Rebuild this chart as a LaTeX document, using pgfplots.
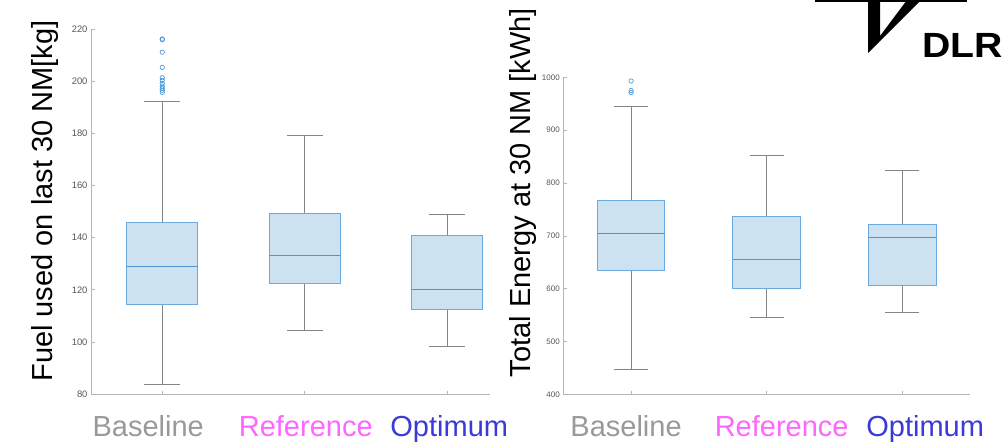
\documentclass[border=0pt]{standalone}
\usepackage{fontspec}
\setmainfont{Liberation Sans}
\usepackage{pgfplots}
\pgfplotsset{compat=1.18}
\definecolor{boxfill}{HTML}{CCE2F1}
\definecolor{boxedge}{HTML}{6AAADF}
\definecolor{medcol}{HTML}{4F93CF}
\definecolor{whisk}{HTML}{858585}
\definecolor{outc}{HTML}{3E8ED8}
\definecolor{axgray}{HTML}{B5B5B5}
\definecolor{tickgray}{HTML}{555555}
\definecolor{lblgray}{HTML}{999999}
\definecolor{lblpink}{HTML}{FF66FF}
\definecolor{lblblue}{HTML}{3A3AD8}
\pgfplotsset{
 mybox/.style={
  scale only axis, axis x line*=bottom, axis y line*=left,
  axis line style={draw=axgray, line width=0.8pt, -},
  tick align=inside, major tick length=3.5pt,
  tick style={draw=axgray, line width=0.6pt},
  xtick={1,2,3},
  xticklabel style={font=\fontsize{29}{30}\selectfont, anchor=base, yshift=-42pt},
  yticklabel style={text=tickgray},
  /pgf/number format/assume math mode=true,
  /pgf/number format/1000 sep={},
  ylabel style={font=\fontsize{29}{30}\selectfont, anchor=center},
 },
 bxs/.style={draw=boxedge, fill=boxfill, line width=1pt, mark=none},
 mds/.style={draw=medcol, line width=1pt, mark=none},
 wks/.style={draw=whisk, line width=0.8pt, mark=none},
 outl/.style={only marks, mark=o, mark size=2.2pt, mark options={draw=outc, line width=0.6pt}},
}
\begin{document}
\begin{tikzpicture}
\useasboundingbox (0pt,0pt) rectangle (1005pt,442pt);
% left axis
\begin{axis}[mybox, at={(91pt,48pt)}, anchor=south west,
  width=399pt, height=364.7pt, xmin=0.5, xmax=3.3, ymin=80, ymax=220,
  ytick={80,100,...,220},
  xticklabels={\textcolor{lblgray}{Baseline}\kern28pt\mbox{},\hspace{2pt}\textcolor{lblpink}{Reference},\hspace{4pt}\textcolor{lblblue}{Optimum}},
  yticklabel style={font=\fontsize{9.4}{10}\selectfont},
  ylabel={Fuel used on last 30 NM[kg]},
  ylabel style={at={(axis description cs:-0.1153,0.529)}}]
% Baseline: lw 83.5, lq 114.2, med 128.8, uq 145.9, uw 192.4
\addplot[wks] coordinates {(1,145.9) (1,192.4)};
\addplot[wks] coordinates {(1,114.2) (1,83.5)};
\addplot[wks] coordinates {(0.875,192.4) (1.125,192.4)};
\addplot[wks] coordinates {(0.875,83.5) (1.125,83.5)};
\addplot[bxs] coordinates {(0.75,114.2) (1.25,114.2) (1.25,145.9) (0.75,145.9) (0.75,114.2)};
\addplot[mds] coordinates {(0.75,128.8) (1.25,128.8)};
% Reference: lw 104.6, lq 122.5, med 133.3, uq 149.3, uw 179.1
\addplot[wks] coordinates {(2,149.3) (2,179.1)};
\addplot[wks] coordinates {(2,122.5) (2,104.6)};
\addplot[wks] coordinates {(1.875,179.1) (2.125,179.1)};
\addplot[wks] coordinates {(1.875,104.6) (2.125,104.6)};
\addplot[bxs] coordinates {(1.75,122.5) (2.25,122.5) (2.25,149.3) (1.75,149.3) (1.75,122.5)};
\addplot[mds] coordinates {(1.75,133.3) (2.25,133.3)};
% Optimum: lw 98.2, lq 112.3, med 120.3, uq 140.8, uw 148.8
\addplot[wks] coordinates {(3,140.8) (3,148.8)};
\addplot[wks] coordinates {(3,112.3) (3,98.2)};
\addplot[wks] coordinates {(2.875,148.8) (3.125,148.8)};
\addplot[wks] coordinates {(2.875,98.2) (3.125,98.2)};
\addplot[bxs] coordinates {(2.75,112.3) (3.25,112.3) (3.25,140.8) (2.75,140.8) (2.75,112.3)};
\addplot[mds] coordinates {(2.75,120.3) (3.25,120.3)};
\addplot[outl] coordinates {(1,216.3) (1,216.0) (1,211.2) (1,205.4) (1,201.4) (1,200.4) (1,199.2) (1,198.2) (1,197.4) (1,196.6) (1,195.8)};
\end{axis}
% right axis
\begin{axis}[mybox, at={(563.3pt,47.7pt)}, anchor=south west,
  width=406.7pt, height=317pt, xmin=0.5, xmax=3.5, ymin=400, ymax=1000,
  ytick={400,500,...,1000},
  xticklabels={\textcolor{lblgray}{Baseline}\kern10pt\mbox{},\hspace{30pt}\textcolor{lblpink}{Reference},\hspace{46pt}\textcolor{lblblue}{Optimum}},
  yticklabel style={font=\fontsize{8}{9}\selectfont},
  ylabel={Total Energy at 30 NM [kWh]},
  ylabel style={at={(axis description cs:-0.1003,0.6366)}}]
% Baseline: lw 448, lq 634, med 704, uq 766, uw 945
\addplot[wks] coordinates {(1,766) (1,945)};
\addplot[wks] coordinates {(1,634) (1,448)};
\addplot[wks] coordinates {(0.875,945) (1.125,945)};
\addplot[wks] coordinates {(0.875,448) (1.125,448)};
\addplot[bxs] coordinates {(0.75,634) (1.25,634) (1.25,766) (0.75,766) (0.75,634)};
\addplot[mds] coordinates {(0.75,704) (1.25,704)};
% Reference: lw 546, lq 600, med 655, uq 736, uw 853
\addplot[wks] coordinates {(2,736) (2,853)};
\addplot[wks] coordinates {(2,600) (2,546)};
\addplot[wks] coordinates {(1.875,853) (2.125,853)};
\addplot[wks] coordinates {(1.875,546) (2.125,546)};
\addplot[bxs] coordinates {(1.75,600) (2.25,600) (2.25,736) (1.75,736) (1.75,600)};
\addplot[mds] coordinates {(1.75,655) (2.25,655)};
% Optimum: lw 555, lq 606, med 697, uq 722, uw 823
\addplot[wks] coordinates {(3,722) (3,823)};
\addplot[wks] coordinates {(3,606) (3,555)};
\addplot[wks] coordinates {(2.875,823) (3.125,823)};
\addplot[wks] coordinates {(2.875,555) (3.125,555)};
\addplot[bxs] coordinates {(2.75,606) (3.25,606) (3.25,722) (2.75,722) (2.75,606)};
\addplot[mds] coordinates {(2.75,697) (3.25,697)};
\addplot[outl] coordinates {(1,993) (1,975) (1,971)};
\end{axis}
% DLR logo
\fill[black] (815pt,439.5pt) rectangle (967pt,442pt);
\fill[black] (868pt,442pt) -- (880pt,442pt) -- (880pt,406pt) -- (907pt,442pt) -- (921pt,442pt) -- (868pt,389pt) -- cycle;
\node[anchor=base west, inner sep=0pt, xscale=1.12, font=\fontsize{35}{36}\selectfont\bfseries] at (922pt,384pt) {DLR};
\end{tikzpicture}
\end{document}
